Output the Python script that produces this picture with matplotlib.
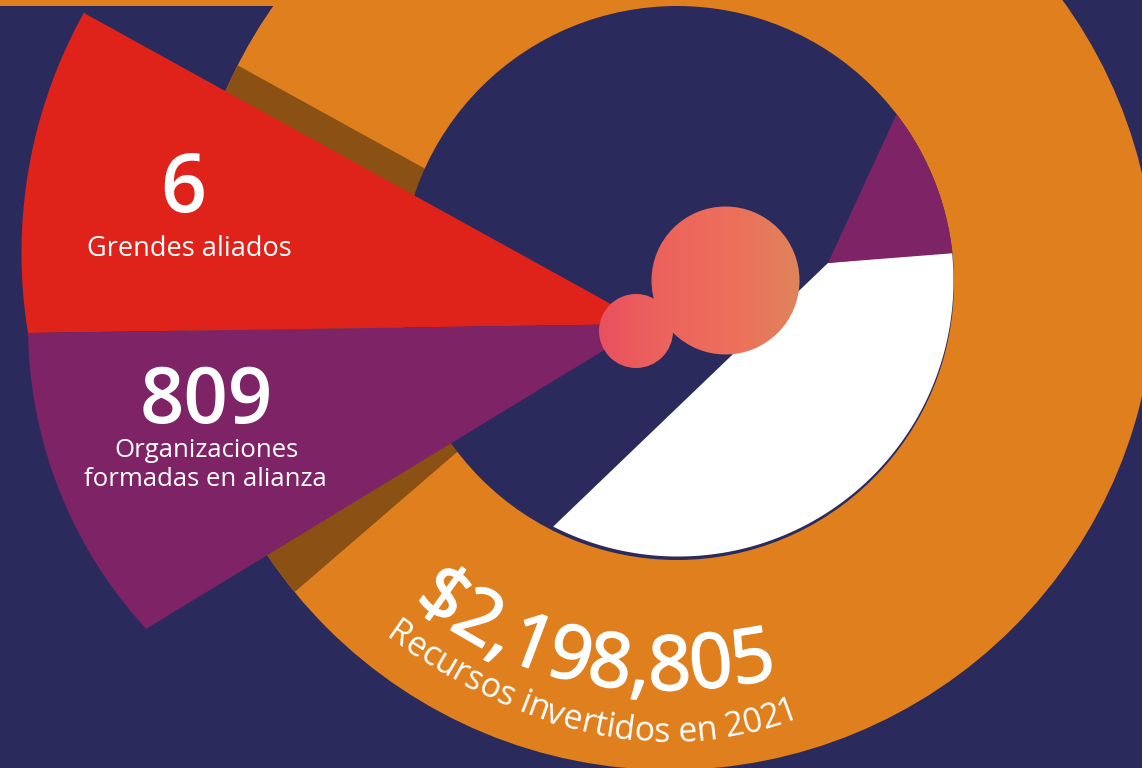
import numpy as np
import matplotlib
matplotlib.use("Agg")
import matplotlib.pyplot as plt
import matplotlib.patheffects as pe
from matplotlib.patches import Circle, Polygon, Rectangle
from matplotlib.font_manager import FontProperties, findfont, get_font
from matplotlib.colors import LinearSegmentedColormap

# ---- content (values shown in the infographic) ----
stat_values = ["6", "809"]
stat_labels = ["Grendes aliados", "Organizaciones\nformadas en alianza"]
money_value = "$2,198,805"
money_label = "Recursos invertidos en 2021"

# ---- colours ----
NAVY = "#2b2a5c"
ORANGE = "#e07f1e"
BROWN = "#8b5013"
RED = "#e0231a"
PURPLE = "#7f2367"
WHITE = "#ffffff"

W, H = 1142, 768
fig = plt.figure(figsize=(W / 100, H / 100), dpi=100)
fig.patch.set_facecolor(NAVY)
ax = fig.add_axes([0, 0, 1, 1])
ax.set_xlim(0, W)
ax.set_ylim(H, 0)
ax.set_aspect("auto")
ax.axis("off")
ax.set_facecolor(NAVY)


def arc_pts(c, r, a0, a1, n=200):
    t = np.radians(np.linspace(a0, a1, n))
    return np.column_stack([c[0] + r * np.cos(t), c[1] + r * np.sin(t)])


def ang(c, p):
    return np.degrees(np.arctan2(p[1] - c[1], p[0] - c[0]))


# top orange strip
ax.add_patch(Rectangle((0, 0), 300, 6, color=ORANGE, lw=0, zorder=1))

# ring
outer_c, outer_r = (670, 285), 485
inner_c, inner_r = (677, 283), 277
outer = Circle(outer_c, outer_r, color=ORANGE, lw=0, zorder=2)
ax.add_patch(outer)

# brown shadow clipped to ring
b_apex = np.array([645, 290])
b_top = b_apex + 4 * (np.array([237, 65]) - b_apex)
b_bot = b_apex + 4 * (np.array([297, 590]) - b_apex)
brown = Polygon([b_apex, b_top, (-2500, 300), b_bot], closed=True,
                color=BROWN, lw=0, zorder=3)
ax.add_patch(brown)
brown.set_clip_path(outer)

# inner navy circle
ax.add_patch(Circle(inner_c, inner_r, color=NAVY, lw=0, zorder=4))

# white sector and small purple sector inside the inner circle
s_apex = (828, 263)
p_tip = (898, 113)
p_w = (955, 253)
w_end = (553, 527)
a_tip, a_w, a_end = ang(inner_c, p_tip), ang(inner_c, p_w), ang(inner_c, w_end)
white_c = (inner_c[0] + 1, inner_c[1] - 2)
white_poly = np.vstack([[s_apex], arc_pts(white_c, inner_r - 1.5, a_w, a_end)])
ax.add_patch(Polygon(white_poly, closed=True, color=WHITE, lw=0, zorder=5))
purp_poly = np.vstack([[s_apex], arc_pts(inner_c, inner_r, a_tip, a_w)])
ax.add_patch(Polygon(purp_poly, closed=True, color=PURPLE, lw=0, zorder=5))

# big red and purple wedges
apex = (647, 324)
red_c, red_r = (515, 253), 493.5
red_poly = np.vstack([[apex], arc_pts(red_c, red_r, ang(red_c, (84, 13)) % 360,
                                      ang(red_c, (28, 333)) % 360)])
ax.add_patch(Polygon(red_poly, closed=True, color=RED, lw=0, zorder=6))
pur_c, pur_r = (475, 326), 447
pur_poly = np.vstack([[apex], arc_pts(pur_c, pur_r, ang(pur_c, (28, 333)),
                                      ang(pur_c, (146, 629)))])
ax.add_patch(Polygon(pur_poly, closed=True, color=PURPLE, lw=0, zorder=6))

# gradient circles
cmap = LinearSegmentedColormap.from_list("g", ["#e8505f", "#ec645c", "#ed6f5b", "#df845a"])
grad = np.linspace(0, 1, 256).reshape(1, -1)
for c, r in [((636, 331), 37), ((725.5, 280.5), 74)]:
    circ = Circle(c, r, facecolor="none", edgecolor="none")
    ax.add_patch(circ)
    im = ax.imshow(grad, cmap=cmap, extent=(598, 800, 400, 200), aspect="auto",
                   zorder=7, interpolation="bilinear")
    im.set_clip_path(circ)
ax.set_xlim(0, W)
ax.set_ylim(H, 0)

FAM = ["Open Sans", "DejaVu Sans"]

# straight stats text
ax.text(183, 212, stat_values[0], color=WHITE, fontsize=58, fontweight="semibold",
        family=FAM, ha="center", va="baseline", zorder=10)
ax.text(189, 256, stat_labels[0], color=WHITE, fontsize=19.5,
        family=FAM, ha="center", va="baseline", zorder=10)
ax.text(206, 423, stat_values[1], color=WHITE, fontsize=56, fontweight="semibold",
        family=FAM, ha="center", va="baseline", zorder=10)
l1, l2 = stat_labels[1].split("\n")
ax.text(206, 457, l1, color=WHITE, fontsize=18.5, family=FAM,
        ha="center", va="baseline", zorder=10)
ax.text(205, 486, l2, color=WHITE, fontsize=18.5, family=FAM,
        ha="center", va="baseline", zorder=10)


# curved text helpers
def advances(s, fp, size):
    font = get_font(findfont(fp))
    font.set_size(size, 100)
    try:
        from matplotlib.ft2font import Kerning, LoadFlags
        kmode, lflag = Kerning.DEFAULT, LoadFlags.NO_HINTING
    except Exception:
        from matplotlib import ft2font
        kmode, lflag = ft2font.KERNING_DEFAULT, ft2font.LOAD_NO_HINTING
    xs, ws = [], []
    x, prev = 0.0, None
    for ch in s:
        idx = font.get_char_index(ord(ch))
        if prev is not None:
            try:
                x += font.get_kerning(prev, idx, kmode) / 64
            except Exception:
                pass
        g = font.load_glyph(idx, flags=lflag)
        w = g.linearHoriAdvance / 65536
        xs.append(x)
        ws.append(w)
        x += w
        prev = idx
    return xs, ws


def curve_text(s, ctrl, size, weight="normal", stroke=0.0):
    cx, cy = np.array(ctrl, dtype=float).T
    coef = np.polyfit(cx, cy, 3)
    d = np.polyder(coef)
    xs = np.linspace(cx.min() - 150, cx.max() + 150, 6000)
    ys = np.polyval(coef, xs)
    sarc = np.concatenate([[0], np.cumsum(np.hypot(np.diff(xs), np.diff(ys)))])
    s0 = np.interp(cx[0], xs, sarc)
    fp = FontProperties(family="Open Sans", weight=weight, size=size)
    pos, wid = advances(s, fp, size)
    effects = [pe.withStroke(linewidth=stroke, foreground=WHITE)] if stroke else None
    for ch, p, w in zip(s, pos, wid):
        if ch == " ":
            continue
        sc = s0 + p + w / 2
        x = np.interp(sc, sarc, xs)
        y = np.interp(sc, sarc, ys)
        a = -np.degrees(np.arctan(np.polyval(d, x)))
        ax.text(x, y, ch, fontproperties=fp, color=WHITE, rotation=a,
                rotation_mode="anchor", ha="center", va="baseline", zorder=10,
                path_effects=effects)


curve_text(money_value,
           [(413, 603), (466, 636), (532, 672), (577, 681), (613, 686),
            (677, 689), (713, 688), (757, 682), (785, 676)], 54.5, "normal", 1.3)
curve_text(money_label,
           [(385, 636), (430, 668), (490, 700), (523, 712), (590, 733),
            (667, 741), (713, 740), (760, 731), (800, 716)], 24.3)

fig.savefig("out.png", dpi=100, facecolor=NAVY)
